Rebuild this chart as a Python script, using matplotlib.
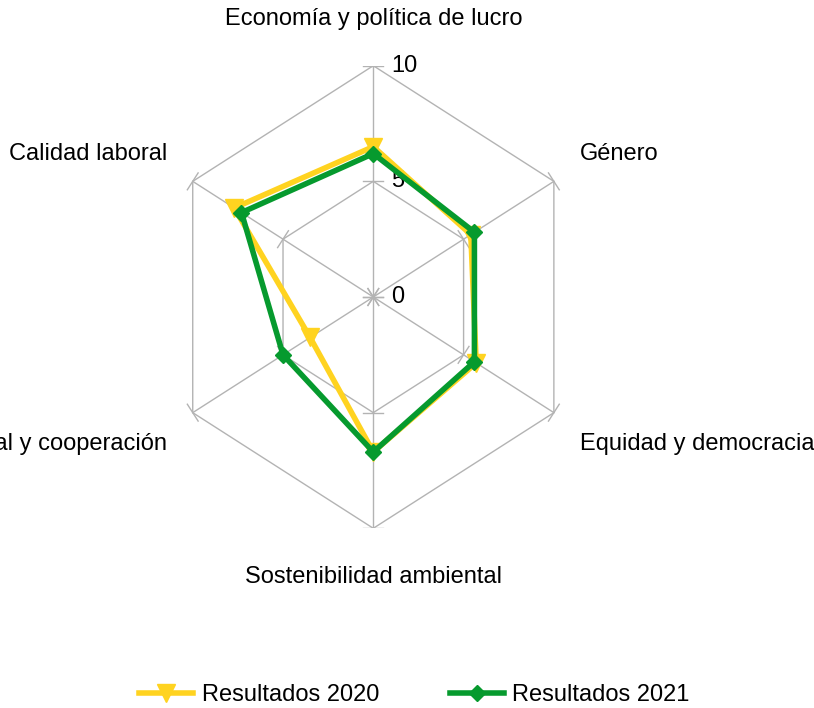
import numpy as np
import matplotlib
matplotlib.use('Agg')
import matplotlib.pyplot as plt
from matplotlib.lines import Line2D

plt.rcParams['font.family'] = ['Liberation Sans', 'DejaVu Sans']

# data
categories = ['Economía y política de lucro', 'Género', 'Equidad y democracia',
              'Sostenibilidad ambiental', 'Compromiso social y cooperación',
              'Calidad laboral']
res_2020 = [6.5, 5.4, 5.7, 6.7, 3.5, 7.7]
res_2021 = [6.2, 5.6, 5.6, 6.7, 5.0, 7.3]
ticks = [0, 5, 10]
series_names = ['Resultados 2020', 'Resultados 2021']

YELLOW = '#ffd320'
GREEN = '#069a2e'
GRID = '#b3b3b3'

W, H = 814, 708
fig = plt.figure(figsize=(W / 100, H / 100), dpi=100)
# axes box spans the value range -10..10 on both directions (stretched like the original)
left_px, right_px = 164.8, 581.8
top_px, bot_px = 65.7, 528.3
ax = fig.add_axes([left_px / W, 1 - bot_px / H, (right_px - left_px) / W, (bot_px - top_px) / H])
ax.set_xlim(-10, 10)
ax.set_ylim(-10, 10)
ax.axis('off')

n = len(categories)
ang = np.pi / 2 - np.arange(n) * 2 * np.pi / n
cx, sy = np.cos(ang), np.sin(ang)

# px per data unit
kx = (right_px - left_px) / 20
ky = (bot_px - top_px) / 20

# hexagon grid
for r in ticks[1:]:
    ax.plot(np.append(r * cx, r * cx[0]), np.append(r * sy, r * sy[0]),
            color=GRID, lw=1, zorder=1)
for i in range(n):
    ax.plot([0, ticks[-1] * cx[i]], [0, ticks[-1] * sy[i]], color=GRID, lw=1, zorder=1)
    # tick marks perpendicular to each spoke
    dx, dy = cx[i] * kx, sy[i] * ky
    L = np.hypot(dx, dy)
    px, py = -dy / L * 10, dx / L * 10
    for r in ticks:
        ax.plot([r * cx[i] - px / kx, r * cx[i] + px / kx],
                [r * sy[i] - py / ky, r * sy[i] + py / ky],
                color=GRID, lw=1, zorder=1)

fs = 17

# value labels on the first axis
for t in ticks:
    ax.text(0.85, t, str(t), ha='left', va='center', fontsize=fs, color='black')

# series
styles = [(YELLOW, 'v', 12.5), (GREEN, 'D', 8)]
for vals, (col, mk, ms) in zip([res_2020, res_2021], styles):
    v = np.array(vals)
    xs, ys = v * cx, v * sy
    ax.plot(np.append(xs, xs[0]), np.append(ys, ys[0]), color=col, lw=4,
            marker=mk, markersize=ms, markevery=list(range(n)),
            solid_joinstyle='miter', zorder=3, clip_on=False)

# category labels
ax.text(0, 12.0, categories[0], ha='center', va='center', fontsize=fs)
ax.text(9.9, 6.2, categories[1], ha='left', va='center', fontsize=fs)
ax.text(9.9, -6.36, categories[2], ha='left', va='center', fontsize=fs)
ax.text(0, -12.1, categories[3], ha='center', va='center', fontsize=fs)
ax.text(-9.9, -6.36, categories[4], ha='right', va='center', fontsize=fs)
ax.text(-9.9, 6.2, categories[5], ha='right', va='center', fontsize=fs)

handles = [Line2D([], [], color=col, lw=4, marker=mk, markersize=ms)
           for col, mk, ms in styles]
fig.legend(handles, series_names, loc='center', bbox_to_anchor=(0.509, 0.018),
           ncol=2, frameon=False, fontsize=fs, handlelength=2.3,
           handletextpad=0.35, columnspacing=3.0)

fig.savefig('out.png', dpi=100, facecolor='white')
